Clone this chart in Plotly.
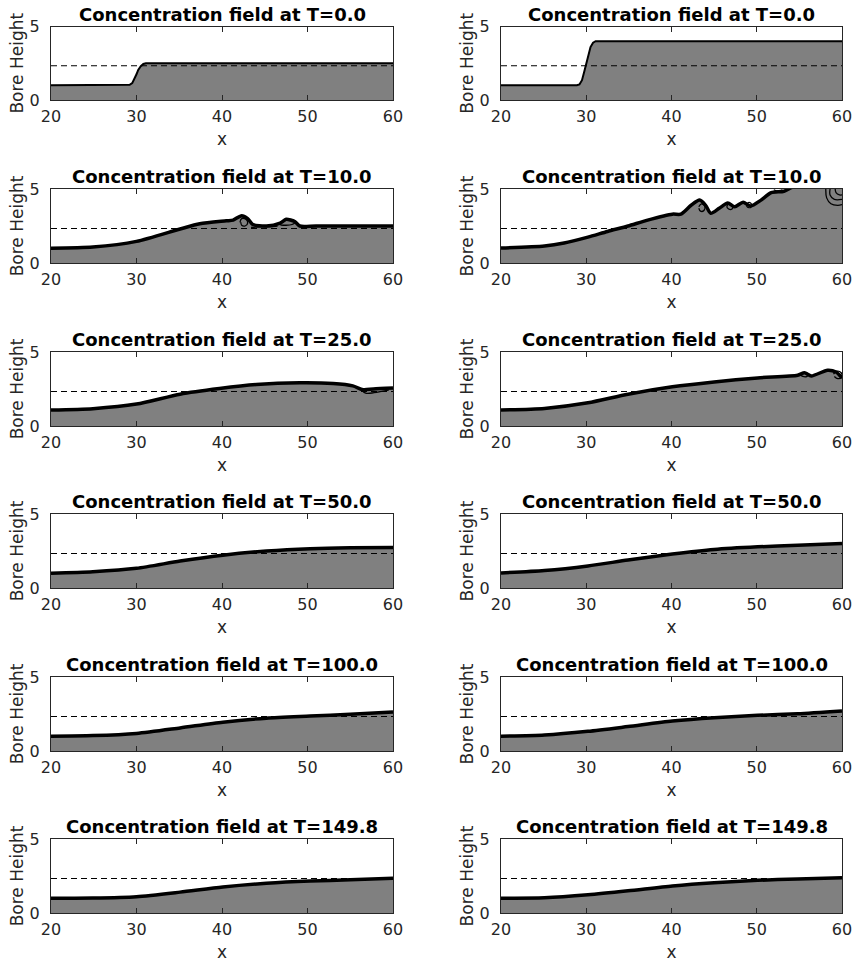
import plotly.graph_objects as go
from plotly.subplots import make_subplots

# ---------------- data ----------------
times = ["0.0", "10.0", "25.0", "50.0", "100.0", "149.8"]
x_ticks = [20, 30, 40, 50, 60]
y_ticks = [0, 5]
x_range = [20, 60]
y_range = [0, 5]
ambient_level = 2.33

# left column (shallower bore)
left_t0_x = [20, 28.9, 29.2, 29.5, 29.8, 30.0, 30.2, 30.5, 30.8, 31.1, 60]
left_t0_y = [1.0, 1.0, 1.03, 1.15, 1.45, 1.75, 2.05, 2.3, 2.45, 2.5, 2.5]
left_t10_x = [20, 24.9, 30, 35.1, 37.4, 40.5, 41.3, 42.3, 43.0, 43.6, 45.2, 46.8, 47.5, 48.5, 49.1, 51, 60]
left_t10_y = [1.0, 1.08, 1.46, 2.3, 2.65, 2.85, 2.9, 3.2, 3.0, 2.6, 2.5, 2.7, 2.95, 2.8, 2.5, 2.5, 2.5]
left_t25_x = [20, 24.9, 30, 35.1, 39.7, 44, 49.1, 53, 55.3, 56.5, 57.7, 60]
left_t25_y = [1.08, 1.17, 1.48, 2.15, 2.53, 2.8, 2.92, 2.87, 2.71, 2.45, 2.5, 2.56]
left_t50_x = [20, 24.9, 30, 35.1, 40.1, 45.2, 50.3, 55, 60]
left_t50_y = [1.0, 1.1, 1.33, 1.82, 2.22, 2.5, 2.66, 2.72, 2.73]
left_t100_x = [20, 24.9, 30, 35.1, 40.1, 45.2, 50.3, 55, 60]
left_t100_y = [1.0, 1.04, 1.19, 1.56, 1.95, 2.22, 2.36, 2.48, 2.63]
left_t150_x = [20, 24.9, 30, 35.1, 40.1, 45.2, 50.3, 55, 60]
left_t150_y = [1.0, 1.01, 1.1, 1.41, 1.76, 2.01, 2.16, 2.24, 2.34]

# right column (deeper bore)
right_t0_x = [20, 28.9, 29.2, 29.5, 29.8, 30.0, 30.2, 30.5, 30.8, 31.1, 60]
right_t0_y = [1.0, 1.0, 1.06, 1.35, 2.0, 2.5, 3.0, 3.6, 3.9, 4.0, 4.0]
right_t10_x = [20, 25.1, 27.4, 30.2, 32.5, 34.9, 37.2, 40.1, 41.1, 42.3, 43.3, 44.0, 44.6, 45.6, 46.6,
               47.4, 48.4, 49.3, 50.5, 51.7, 53.2, 54.5, 57.5, 58.5, 60]
right_t10_y = [1.01, 1.15, 1.35, 1.75, 2.13, 2.5, 2.9, 3.3, 3.3, 3.9, 4.25, 3.9, 3.36, 3.7, 4.05,
               3.8, 4.1, 3.85, 4.25, 4.75, 4.85, 5.2, 5.4, 5.4, 5.4]
right_t25_x = [20, 25.1, 30.2, 34.9, 40.1, 45, 50.1, 54.8, 55.6, 56.4, 58.3, 59.3, 60]
right_t25_y = [1.08, 1.19, 1.57, 2.15, 2.65, 2.98, 3.25, 3.43, 3.6, 3.38, 3.77, 3.65, 3.25]
right_t50_x = [20, 25.1, 30.2, 34.9, 40.1, 45, 50.1, 54.8, 60]
right_t50_y = [1.02, 1.18, 1.49, 1.89, 2.29, 2.6, 2.78, 2.89, 3.0]
right_t100_x = [20, 25.1, 30.2, 34.9, 40.1, 45, 50.1, 54.8, 60]
right_t100_y = [1.0, 1.08, 1.33, 1.65, 2.02, 2.25, 2.41, 2.52, 2.71]
right_t150_x = [20, 25.1, 30.2, 34.9, 40.1, 45, 50.1, 54.8, 60]
right_t150_y = [1.0, 1.03, 1.23, 1.5, 1.83, 2.05, 2.21, 2.3, 2.39]

# Kelvin-Helmholtz billow contours (x list, y list) per panel
left_t10_billows = [
    ([42.1, 42.3, 42.8, 43.0, 42.7, 42.3, 42.2], [2.75, 3.0, 2.95, 2.7, 2.5, 2.55, 2.75]),
    ([46.8, 47.3, 48.0, 48.6, 48.2, 47.5, 46.8], [2.6, 2.85, 2.95, 2.8, 2.6, 2.55, 2.6]),
    ([43.4, 44.5, 45.5, 46.5], [2.4, 2.45, 2.45, 2.5]),
]
left_t25_billows = [
    ([56.3, 56.8, 57.8, 58.8, 59.5], [2.45, 2.22, 2.25, 2.35, 2.42]),
]
right_t10_billows = [
    ([43.2, 43.5, 43.9, 43.8, 43.4, 43.2], [3.8, 4.0, 3.85, 3.55, 3.5, 3.7]),
    ([46.5, 46.8, 47.2, 47.1, 46.7, 46.5], [3.85, 4.0, 3.9, 3.65, 3.65, 3.85]),
    ([48.8, 49.1, 49.4, 49.3, 48.9, 48.8], [3.95, 4.1, 3.95, 3.75, 3.78, 3.95]),
    ([52.0, 52.5, 53.0], [4.95, 4.85, 4.95]),
    ([58.1, 58.2, 58.7, 59.5, 60.0], [5.0, 4.4, 4.0, 3.9, 3.95]),
    ([58.6, 58.6, 59.1, 60.0], [5.0, 4.6, 4.3, 4.3]),
    ([59.2, 59.3, 59.7, 60.0], [5.0, 4.75, 4.6, 4.6]),
]
right_t25_billows = [
    ([55.2, 55.6, 56.1, 55.9, 55.4, 55.2], [3.45, 3.6, 3.5, 3.35, 3.35, 3.45]),
    ([59.0, 59.4, 59.9, 60.0, 59.5, 59.1], [3.5, 3.7, 3.6, 3.3, 3.2, 3.35]),
]

left_panels = [(left_t0_x, left_t0_y, []), (left_t10_x, left_t10_y, left_t10_billows),
               (left_t25_x, left_t25_y, left_t25_billows), (left_t50_x, left_t50_y, []),
               (left_t100_x, left_t100_y, []), (left_t150_x, left_t150_y, [])]
right_panels = [(right_t0_x, right_t0_y, []), (right_t10_x, right_t10_y, right_t10_billows),
                (right_t25_x, right_t25_y, right_t25_billows), (right_t50_x, right_t50_y, []),
                (right_t100_x, right_t100_y, []), (right_t150_x, right_t150_y, [])]

# ---------------- layout geometry (pixels) ----------------
W, H = 856, 964
col_px = [(51, 393), (501, 842)]
row_px = [(26.5, 100), (189, 263), (352, 426), (514, 588), (677, 751), (839, 913)]

FONT = "DejaVu Sans"
AX = "#262626"

fig = make_subplots(rows=6, cols=2)

for r in range(6):
    for c in range(2):
        px, py, billows = (left_panels if c == 0 else right_panels)[r]
        lw = 2 if r == 0 else 3.5
        shape = "linear" if r == 0 else "spline"
        fig.add_trace(go.Scatter(x=px, y=py, mode="lines", fill="tozeroy", fillcolor="#808080",
                                 line=dict(color="black", width=0, shape=shape, smoothing=0.7),
                                 hoverinfo="skip", showlegend=False), row=r + 1, col=c + 1)
        fig.add_trace(go.Scatter(x=x_range, y=[ambient_level, ambient_level], mode="lines",
                                 line=dict(color="black", width=1.1, dash="6px,4px"),
                                 hoverinfo="skip", showlegend=False), row=r + 1, col=c + 1)
        fig.add_trace(go.Scatter(x=px, y=py, mode="lines",
                                 line=dict(color="black", width=lw, shape=shape, smoothing=0.7),
                                 hoverinfo="skip", showlegend=False), row=r + 1, col=c + 1)
        for bx, by in billows:
            fig.add_trace(go.Scatter(x=bx, y=by, mode="lines",
                                     line=dict(color="black", width=1.3, shape="spline", smoothing=1),
                                     hoverinfo="skip", showlegend=False), row=r + 1, col=c + 1)

annotations = []
for r in range(6):
    for c in range(2):
        idx = r * 2 + c + 1
        xs = "" if idx == 1 else str(idx)
        x0, x1 = col_px[c]
        t, b = row_px[r]
        xd = [x0 / W, x1 / W]
        yd = [1 - b / H, 1 - t / H]
        fig.layout["xaxis" + xs].update(
            domain=xd, range=x_range, tickvals=x_ticks, ticks="inside", ticklen=5,
            mirror="allticks", showline=True, linecolor=AX, linewidth=1, showgrid=False,
            zeroline=False, tickcolor=AX, tickfont=dict(family=FONT, size=16, color=AX),
            ticklabelstandoff=2, automargin=False,
            title=dict(text="x", font=dict(family=FONT, size=17, color=AX), standoff=7),
            fixedrange=True)
        fig.layout["yaxis" + xs].update(
            domain=yd, range=y_range, tickvals=y_ticks, ticks="inside", ticklen=5,
            mirror="allticks", showline=True, linecolor=AX, linewidth=1, showgrid=False,
            zeroline=False, tickcolor=AX, tickfont=dict(family=FONT, size=16, color=AX),
            ticklabelstandoff=7, automargin=False,
            title=dict(text="Bore Height", font=dict(family=FONT, size=17, color=AX), standoff=1),
            fixedrange=True)
        annotations.append(dict(
            text="<b>Concentration field at T=%s</b>" % times[r],
            x=(xd[0] + xd[1]) / 2, y=yd[1], xref="paper", yref="paper",
            xanchor="center", yanchor="bottom", showarrow=False, yshift=0,
            font=dict(family=FONT, size=18, color="black")))

fig.update_layout(width=W, height=H, margin=dict(l=0, r=0, t=0, b=0),
                  plot_bgcolor="white", paper_bgcolor="white",
                  annotations=annotations, showlegend=False)

fig.write_html("out.html")
